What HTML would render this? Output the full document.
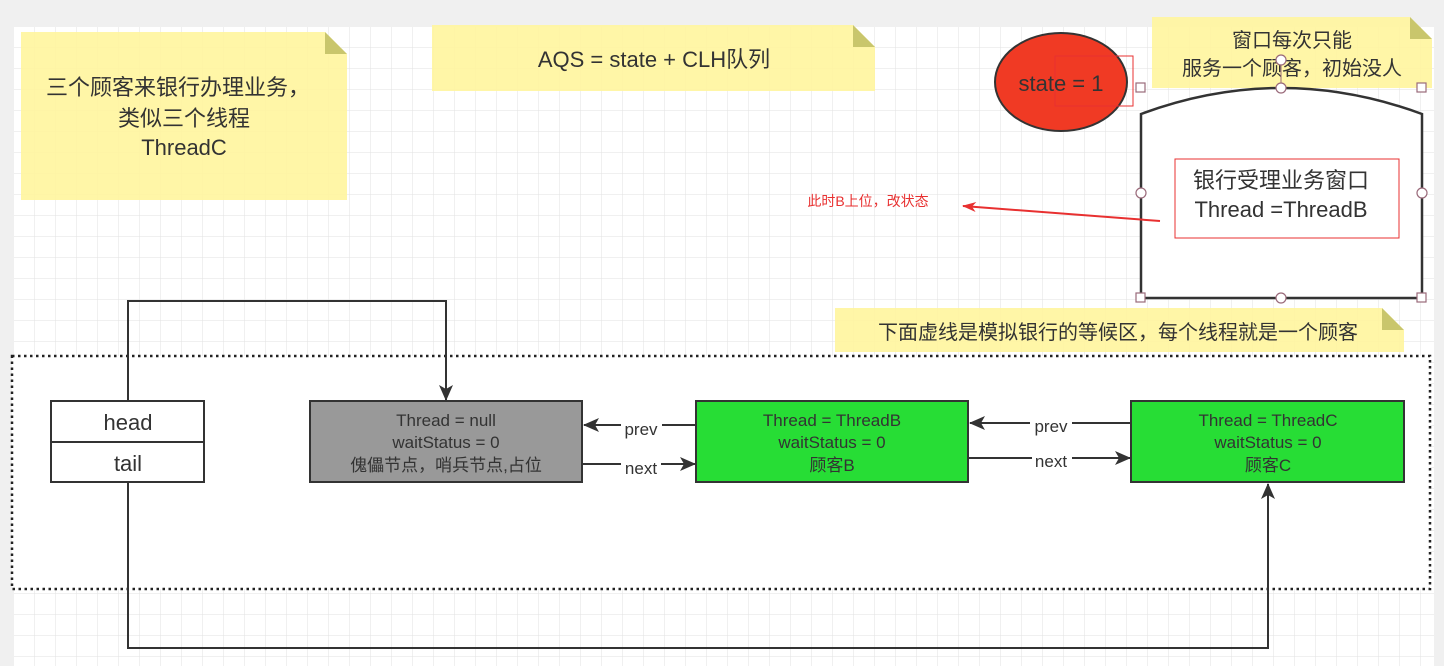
<!DOCTYPE html>
<html><head><meta charset="utf-8"><style>
html,body{margin:0;padding:0;background:#f0f0f0;}
svg{display:block;font-family:"Liberation Sans","Noto Sans CJK SC",sans-serif;}
</style></head><body>
<svg width="1444" height="666" xmlns="http://www.w3.org/2000/svg">
<defs>
<pattern id="g" x="14" y="27" width="21" height="21" patternUnits="userSpaceOnUse">
<path d="M21 0V21M0 21H21" fill="none" stroke="#e2e2e2" stroke-width="1"/>
</pattern>
<marker id="ah" markerWidth="16" markerHeight="14" refX="15" refY="7" orient="auto" markerUnits="userSpaceOnUse">
<path d="M0,0 L16,7 L0,14 L4,7 z" fill="#333"/></marker>
<marker id="ar" markerWidth="14" markerHeight="10" refX="13" refY="5" orient="auto" markerUnits="userSpaceOnUse">
<path d="M0,0 L14,5 L0,10 L4,5 z" fill="#e83030"/></marker>
</defs>
<rect width="1444" height="666" fill="#f0f0f0"/>
<rect x="14" y="27" width="1420" height="639" fill="#fff"/>
<rect x="14" y="27" width="1420" height="639" fill="url(#g)"/>

<path d="M21,32 H325 L347,54 V200 H21 Z" fill="#fff59d" opacity="0.9"/>
<path d="M325,32 L347,54 H325 Z" fill="#c9c66c"/>
<text x="178" y="95" font-size="22" text-anchor="middle" fill="#333">三个顾客来银行办理业务，</text>
<text x="184" y="126" font-size="22" text-anchor="middle" fill="#333">类似三个线程</text>
<text x="184" y="155" font-size="22" text-anchor="middle" fill="#333">ThreadC</text>

<path d="M432,25 H853 L875,47 V91 H432 Z" fill="#fff59d" opacity="0.9"/>
<path d="M853,25 L875,47 H853 Z" fill="#c9c66c"/>
<text x="654" y="67" font-size="22" text-anchor="middle" fill="#333">AQS = state + CLH队列</text>

<path d="M1152,17 H1410 L1432,39 V88 H1152 Z" fill="#fff59d" opacity="0.9"/>
<path d="M1410,17 L1432,39 H1410 Z" fill="#c9c66c"/>
<text x="1292" y="47" font-size="20" text-anchor="middle" fill="#333">窗口每次只能</text>
<text x="1292" y="75" font-size="20" text-anchor="middle" fill="#333">服务一个顾客，初始没人</text>

<path d="M835,308 H1382 L1404,330 V352 H835 Z" fill="#fff59d" opacity="0.9"/>
<path d="M1382,308 L1404,330 H1382 Z" fill="#c9c66c"/>
<text x="1118" y="339" font-size="20" text-anchor="middle" fill="#333">下面虚线是模拟银行的等候区，每个线程就是一个顾客</text>

<ellipse cx="1061" cy="82" rx="66" ry="49" fill="#f03a24" stroke="#333" stroke-width="2"/>
<rect x="1055" y="56" width="78" height="50" fill="none" stroke="#e83030" stroke-width="1"/>
<text x="1061" y="91" font-size="22" text-anchor="middle" fill="#333">state = 1</text>

<path d="M1141,298 V114 Q1281,62 1422,114 V298 Z" fill="#fff" stroke="#333" stroke-width="2.5"/>
<rect x="1175" y="159" width="224" height="79" fill="#fff" stroke="#e83030" stroke-width="1"/>
<text x="1281" y="188" font-size="22" text-anchor="middle" fill="#333">银行受理业务窗口</text>
<text x="1281" y="217" font-size="22" text-anchor="middle" fill="#333">Thread =ThreadB</text>
<g fill="#fff" stroke="#9a6a7a" stroke-width="1.2">
<rect x="1136" y="83" width="9" height="9"/><rect x="1417" y="83" width="9" height="9"/>
<rect x="1136" y="293" width="9" height="9"/><rect x="1417" y="293" width="9" height="9"/>
<circle cx="1281" cy="88" r="5"/><circle cx="1281" cy="298" r="5"/>
<circle cx="1141" cy="193" r="5"/><circle cx="1422" cy="193" r="5"/>
<circle cx="1281" cy="60" r="5"/>
</g>
<line x1="1281" y1="65" x2="1281" y2="83" stroke="#9a6a7a"/>

<line x1="1160" y1="221" x2="963" y2="206" stroke="#e83030" stroke-width="2" marker-end="url(#ar)"/>
<text x="868" y="206" font-size="14" text-anchor="middle" fill="#e83030">此时B上位，改状态</text>

<rect x="12" y="356" width="1418" height="233" fill="#fff" stroke="#222" stroke-width="2.5" stroke-dasharray="2.5,3.5"/>

<rect x="51" y="401" width="153" height="81" fill="#fff" stroke="#333" stroke-width="2"/>
<line x1="51" y1="442" x2="204" y2="442" stroke="#333" stroke-width="2"/>
<text x="128" y="430" font-size="22" text-anchor="middle" fill="#333">head</text>
<text x="128" y="471" font-size="22" text-anchor="middle" fill="#333">tail</text>

<path d="M128,401 V301 H446 V400" fill="none" stroke="#333" stroke-width="2" marker-end="url(#ah)"/>
<path d="M128,482 V648 H1268 V484" fill="none" stroke="#333" stroke-width="2" marker-end="url(#ah)"/>

<rect x="310" y="401" width="272" height="81" fill="#999" stroke="#333" stroke-width="2"/>
<text x="446" y="426" font-size="17" text-anchor="middle" fill="#333">Thread = null</text>
<text x="446" y="448" font-size="17" text-anchor="middle" fill="#333">waitStatus = 0</text>
<text x="446" y="471" font-size="17" text-anchor="middle" fill="#333">傀儡节点，哨兵节点,占位</text>

<rect x="696" y="401" width="272" height="81" fill="#27dd35" stroke="#333" stroke-width="2"/>
<text x="832" y="426" font-size="17" text-anchor="middle" fill="#333">Thread = ThreadB</text>
<text x="832" y="448" font-size="17" text-anchor="middle" fill="#333">waitStatus = 0</text>
<text x="832" y="471" font-size="17" text-anchor="middle" fill="#333">顾客B</text>

<rect x="1131" y="401" width="273" height="81" fill="#27dd35" stroke="#333" stroke-width="2"/>
<text x="1268" y="426" font-size="17" text-anchor="middle" fill="#333">Thread = ThreadC</text>
<text x="1268" y="448" font-size="17" text-anchor="middle" fill="#333">waitStatus = 0</text>
<text x="1268" y="471" font-size="17" text-anchor="middle" fill="#333">顾客C</text>

<g stroke="#333" stroke-width="2" fill="none">
<line x1="696" y1="425" x2="662" y2="425"/><line x1="621" y1="425" x2="584" y2="425" marker-end="url(#ah)"/>
<line x1="582" y1="464" x2="621" y2="464"/><line x1="661" y1="464" x2="695" y2="464" marker-end="url(#ah)"/>
<line x1="1131" y1="423" x2="1072" y2="423"/><line x1="1030" y1="423" x2="970" y2="423" marker-end="url(#ah)"/>
<line x1="968" y1="458" x2="1032" y2="458"/><line x1="1072" y1="458" x2="1130" y2="458" marker-end="url(#ah)"/>
</g>
<text x="641" y="435" font-size="17" text-anchor="middle" fill="#333">prev</text>
<text x="641" y="474" font-size="17" text-anchor="middle" fill="#333">next</text>
<text x="1051" y="432" font-size="17" text-anchor="middle" fill="#333">prev</text>
<text x="1051" y="467" font-size="17" text-anchor="middle" fill="#333">next</text>
</svg>
</body></html>
